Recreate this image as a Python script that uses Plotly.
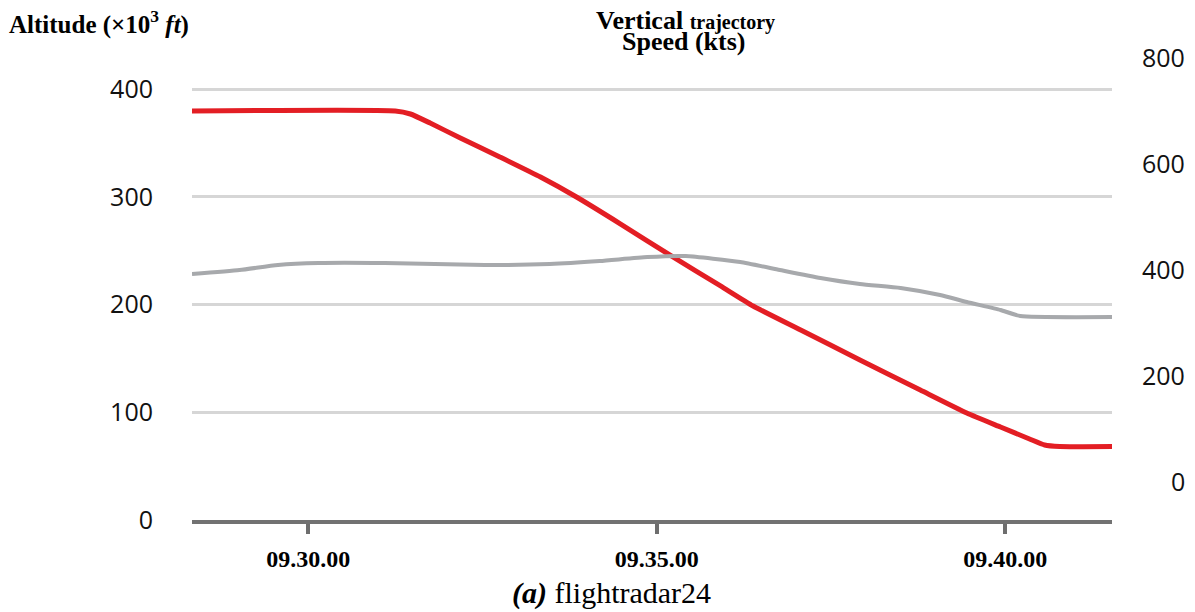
import plotly.graph_objects as go

DAY = "2024-01-01 "

# Altitude (x10^3 ft) - red line, left axis
alt_time = ["09:28:20", "09:31:15", "09:31:28", "09:31:45", "09:32:11", "09:32:45",
            "09:33:20", "09:33:51", "09:34:29", "09:35:14", "09:35:55", "09:36:23",
            "09:37:04", "09:37:55", "09:38:47", "09:39:27", "09:39:56", "09:40:21",
            "09:40:34", "09:40:47", "09:41:32"]
alt_vals = [379.6, 379.6, 376.8, 368.4, 354.5, 336.9,
            318.3, 299.8, 274.7, 244.1, 217.2, 198.6,
            176.3, 148.5, 120.6, 99.3, 86.3, 75.2,
            69.6, 68.2, 68.2]

# Speed (kts) - grey line, right axis
spd_time = ["09:28:20", "09:29:01", "09:29:34", "09:30:09", "09:31:06", "09:32:32",
            "09:33:28", "09:34:11", "09:34:52", "09:35:25", "09:36:12", "09:36:46",
            "09:37:21", "09:37:55", "09:38:30", "09:39:04", "09:39:27", "09:39:56",
            "09:40:13", "09:41:32"]
spd_vals = [390.6, 398.1, 407.5, 411.3, 411.3, 407.5,
            409.4, 415.1, 422.6, 424.5, 413.2, 398.1,
            383.0, 371.7, 364.2, 350.9, 337.7, 322.6,
            311.3, 309.4]

x_tick_times = ["09:30:00", "09:35:00", "09:40:00"]
x_tick_labels = ["09.30.00", "09.35.00", "09.40.00"]
left_ticks = [0, 100, 200, 300, 400]
right_ticks = [0, 200, 400, 600, 800]

# geometry (reference pixel coords; page body adds an 8px offset)
OFF = 8
W, H = 1195 - OFF, 612 - OFF
X0, X1, Y0, Y1 = 192, 1112, 50, 520          # plot area in reference coords
L, R, T, B = X0 - OFF, W - (X1 - OFF), Y0 - OFF, H - (Y1 - OFF)
PW, PH = X1 - X0, Y1 - Y0
LEFT_PX_PER_UNIT = 1.0775
RIGHT_PX_PER_UNIT = 0.53
RIGHT_ZERO_Y = 481


def px(xp):
    return (xp - X0) / PW


def py(yp):
    return (Y1 - yp) / PH


fig = go.Figure()
fig.add_trace(go.Scatter(
    x=[DAY + t for t in spd_time], y=spd_vals, yaxis="y2", mode="lines",
    line=dict(color="#a7a9ac", width=4, shape="spline", smoothing=0.5),
    showlegend=False, hoverinfo="skip"))
fig.add_trace(go.Scatter(
    x=[DAY + t for t in alt_time], y=alt_vals, mode="lines",
    line=dict(color="#e31e24", width=5, shape="spline", smoothing=0.5),
    showlegend=False, hoverinfo="skip"))

fig.update_layout(
    width=W, height=H,
    margin=dict(l=L, r=R, t=T, b=B, pad=0),
    plot_bgcolor="white", paper_bgcolor="white",
    xaxis=dict(
        type="date",
        range=[DAY + "09:28:20", DAY + "09:41:32"],
        tickvals=[DAY + t for t in x_tick_times],
        ticktext=["<b>%s</b>" % s for s in x_tick_labels],
        ticks="outside", ticklen=10, tickwidth=4, tickcolor="#6e6e6e",
        tickfont=dict(family="Liberation Serif", size=24, color="#000"),
        ticklabelstandoff=4,
        showline=True, linecolor="#727272", linewidth=4,
        showgrid=False, zeroline=False,
    ),
    yaxis=dict(
        range=[0, PH / LEFT_PX_PER_UNIT],
        tickvals=left_ticks,
        ticks="",
        tickfont=dict(family="Open Sans", size=25, color="#111"),
        ticklabelstandoff=38,
        showgrid=True, gridcolor="#d6d6d6", gridwidth=2.5,
        zeroline=False, showline=False,
    ),
    yaxis2=dict(
        overlaying="y", side="right",
        range=[-(Y1 - RIGHT_ZERO_Y) / RIGHT_PX_PER_UNIT,
               (RIGHT_ZERO_Y - Y0) / RIGHT_PX_PER_UNIT],
        showticklabels=False, showgrid=False, zeroline=False, showline=False,
        ticks="",
    ),
    font=dict(family="Liberation Serif", color="#000"),
)

annos = [
    dict(text="<b>Altitude (×10<sup>3</sup> <i>ft</i>)</b>", x=px(7), y=py(23),
         xanchor="left", yanchor="middle", font=dict(size=25)),
    dict(text="<b>Vertical <span style='font-size:20px'>trajectory</span></b>",
         x=px(685), y=py(20), xanchor="center", yanchor="middle", font=dict(size=26)),
    dict(text="<b>Speed (kts)</b>", x=px(684), y=py(42),
         xanchor="center", yanchor="middle", font=dict(size=26)),
    dict(text="<b><i>(a)</i></b> flightradar24", x=px(611), y=py(593),
         xanchor="center", yanchor="middle", font=dict(size=30)),
]
for a in annos:
    a.update(xref="paper", yref="paper", showarrow=False)
for v in right_ticks:
    annos.append(dict(text=str(v), xref="paper", yref="y2", x=px(1187), y=v,
                      xanchor="right", yanchor="middle", showarrow=False,
                      font=dict(family="Open Sans", size=25, color="#111")))
fig.update_layout(annotations=annos)

fig.write_html("out.html")
